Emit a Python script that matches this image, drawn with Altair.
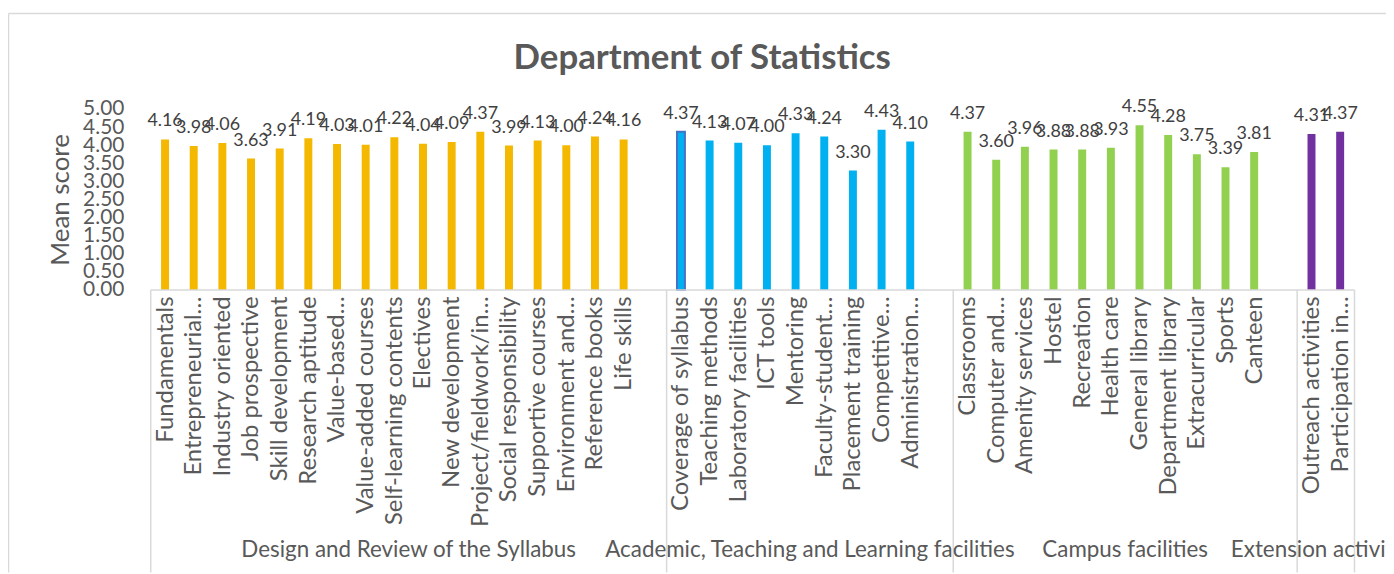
import altair as alt
import pandas as pd

# ---- data ----
groups = ["Design and Review of the Syllabus",
          "Academic, Teaching and Learning facilities",
          "Campus facilities",
          "Extension activities"]

syllabus_cats = ["Fundamentals", "Entrepreneurial…", "Industry oriented", "Job prospective",
                 "Skill development", "Research aptitude", "Value-based…", "Value-added courses",
                 "Self-learning contents", "Electives", "New development", "Project/fieldwork/in…",
                 "Social responsibility", "Supportive courses", "Environment and…",
                 "Reference books", "Life skills"]
syllabus_vals = [4.16, 3.98, 4.06, 3.63, 3.91, 4.19, 4.03, 4.01, 4.22, 4.04, 4.09, 4.37,
                 3.99, 4.13, 4.00, 4.24, 4.16]

academic_cats = ["Coverage of syllabus", "Teaching methods", "Laboratory facilities", "ICT tools",
                 "Mentoring", "Faculty-student…", "Placement training", "Competitive…",
                 "Administration…"]
academic_vals = [4.37, 4.13, 4.07, 4.00, 4.33, 4.24, 3.30, 4.43, 4.10]

campus_cats = ["Classrooms", "Computer and…", "Amenity services", "Hostel", "Recreation",
               "Health care", "General library", "Department library", "Extracurricular",
               "Sports", "Canteen"]
campus_vals = [4.37, 3.60, 3.96, 3.88, 3.88, 3.93, 4.55, 4.28, 3.75, 3.39, 3.81]

extension_cats = ["Outreach activities", "Participation in…"]
extension_vals = [4.31, 4.37]

colors = ["#F4B800", "#00B0F0", "#92D050", "#7030A0"]
y_ticks = [0, 0.5, 1, 1.5, 2, 2.5, 3, 3.5, 4, 4.5, 5]

# ---- build table (one blank slot after each group but the last, as in the original axis) ----
all_cats = [syllabus_cats, academic_cats, campus_cats, extension_cats]
all_vals = [syllabus_vals, academic_vals, campus_vals, extension_vals]
rows, bounds, centers, slot_labels = [], [0], [], []
slot = 0
for gi, (cats, vals) in enumerate(zip(all_cats, all_vals)):
    start = slot
    for c, v in zip(cats, vals):
        rows.append({"cat": c, "value": v, "group": groups[gi], "x": slot + 0.5})
        slot_labels.append(c)
        slot += 1
    if gi < len(groups) - 1:
        slot_labels.append("")
        slot += 1
    bounds.append(slot)
    centers.append({"group": groups[gi], "x": (start + slot) / 2})
df = pd.DataFrame(rows)
bdf = pd.DataFrame({"x": bounds})
gdf = pd.DataFrame(centers)
n_slots = slot

W, H = 1247, 182
SLOT_PX = 29.05
xmax = W / SLOT_PX
GRAY = "#595959"
LINE = "#D9D9D9"

label_arr = "[" + ",".join("'" + s.replace("'", "\\'") + "'" for s in slot_labels) + "]"
xscale = alt.Scale(domain=[0, xmax], nice=False, zero=False)
yscale = alt.Scale(domain=[0, 5], nice=False)

xaxis = alt.Axis(values=list(df["x"]), labelExpr=label_arr + "[floor(datum.value)]",
                 labelAngle=270, labelAlign="right", labelBaseline="middle",
                 labelFontSize=24, labelColor=GRAY, labelPadding=6,
                 labelOverlap=False, labelBound=False, labelFlush=False, labelLimit=0,
                 domain=False, ticks=False, grid=False, title=None)
yaxis = alt.Axis(values=y_ticks, format=".2f", labelFontSize=21, labelColor=GRAY,
                 labelPadding=22, labelOverlap=False, labelBound=False,
                 labelFlush=False, domain=False, ticks=False, grid=False,
                 title="Mean score", titleFontSize=26, titleColor=GRAY,
                 titleFontWeight="normal", titlePadding=9)

base = alt.Chart(df)

bars = base.mark_bar(size=8).encode(
    x=alt.X("x:Q", scale=xscale, axis=xaxis),
    y=alt.Y("value:Q", scale=yscale, axis=yaxis),
    color=alt.Color("group:N", scale=alt.Scale(domain=groups, range=colors), legend=None),
    stroke=alt.value("#4472C4"),
    strokeWidth=alt.condition(alt.datum.cat == "Coverage of syllabus", alt.value(2), alt.value(0)),
)

labels = base.mark_text(baseline="alphabetic", dy=-13, fontSize=18, color="#404040").encode(
    x=alt.X("x:Q", scale=xscale, axis=xaxis),
    y=alt.Y("value:Q", scale=yscale, axis=yaxis),
    text=alt.Text("value:Q", format=".2f"),
)

seps = alt.Chart(bdf).mark_rule(color=LINE, strokeWidth=1.5).encode(
    x=alt.X("x:Q", scale=xscale, axis=xaxis), y=alt.value(H), y2=alt.value(H + 284))

baseline = alt.Chart(pd.DataFrame({"x": [0], "x2": [n_slots], "y": [0]})).mark_rule(
    color=LINE, strokeWidth=1.5).encode(
    x=alt.X("x:Q", scale=xscale, axis=xaxis), x2="x2:Q",
    y=alt.Y("y:Q", scale=yscale, axis=yaxis))

group_text = alt.Chart(gdf).mark_text(fontSize=22.5, color=GRAY, baseline="middle").encode(
    x=alt.X("x:Q", scale=xscale, axis=xaxis), y=alt.value(443), text="group:N")

title = alt.Chart(pd.DataFrame({"t": ["Department of Statistics"]})).mark_text(
    fontSize=35, fontWeight="bold", color=GRAY, baseline="middle").encode(
    x=alt.value(706 - 146.5), y=alt.value(57 - 108), text="t:N")

border_top = alt.Chart(pd.DataFrame({"a": [0]})).mark_rule(color=LINE, strokeWidth=1.5).encode(
    x=alt.value(-138), x2=alt.value(W + 10), y=alt.value(-96))
border_left = alt.Chart(pd.DataFrame({"a": [0]})).mark_rule(color=LINE, strokeWidth=1.5).encode(
    x=alt.value(-138), y=alt.value(-96), y2=alt.value(H + 284))

chart = alt.layer(bars, labels, seps, baseline, group_text, title, border_top, border_left).properties(
    width=W, height=H,
    autosize=alt.AutoSizeParams(type="none"),
    padding={"left": 138.5, "top": 100, "right": 0, "bottom": 284},
).configure(font="Lato").configure_axis(labelOverlap=False, labelLimit=0).configure_view(stroke=None)

chart.save("out.html", embed_options={"renderer": "svg", "actions": False})
